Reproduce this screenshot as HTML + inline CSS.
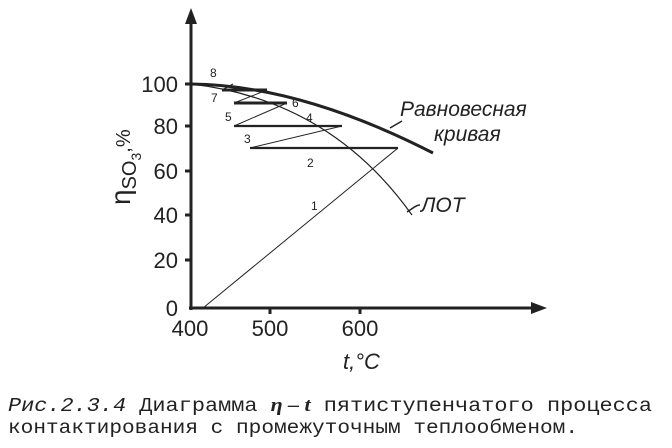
<!DOCTYPE html>
<html><head><meta charset="utf-8"><style>
body{margin:0;background:#fff}
.s{font-family:"Liberation Sans",sans-serif;fill:#222}
.m{font-family:"Liberation Mono",monospace;fill:#222}
</style></head><body>
<svg width="672" height="443" viewBox="0 0 672 443" xmlns="http://www.w3.org/2000/svg">
<g stroke="#222" fill="none">
<line x1="191" y1="310" x2="191" y2="20" stroke-width="3"/>
<polygon points="191,8 185,24 197,24" fill="#222" stroke="none"/>
<line x1="189" y1="308" x2="535" y2="308" stroke-width="3"/>
<polygon points="547,308 531,302 531,314" fill="#222" stroke="none"/>
<g stroke-width="3">
<line x1="185" y1="84" x2="191" y2="84"/><line x1="185" y1="126" x2="191" y2="126"/>
<line x1="185" y1="171" x2="191" y2="171"/><line x1="185" y1="215" x2="191" y2="215"/>
<line x1="185" y1="260" x2="191" y2="260"/>
<line x1="270" y1="308" x2="270" y2="314"/><line x1="360" y1="308" x2="360" y2="314"/>
</g>
<path d="M191,84 Q300,85 433,153" stroke-width="3"/>
<path d="M191,84 Q330,100 412,215" stroke-width="1.2"/>
<line x1="390" y1="128" x2="402" y2="121" stroke-width="1.5"/>
<path d="M407,212 L413,208 Q417,205 420,205" stroke-width="1.5"/>
<polyline points="203,308 398,148" stroke-width="1"/>
<line x1="398" y1="148" x2="250" y2="148" stroke-width="2.2"/>
<polyline points="250,148 342,126" stroke-width="1"/>
<line x1="342" y1="126" x2="234" y2="126" stroke-width="2.2"/>
<polyline points="234,126 287,103" stroke-width="1"/>
<line x1="287" y1="103" x2="234" y2="103" stroke-width="3"/>
<polyline points="234,103 267,90" stroke-width="1"/>
<line x1="267" y1="90" x2="222" y2="90" stroke-width="3"/>
<polyline points="222,90 233,84" stroke-width="1"/>
</g>
<g class="s" font-size="22" text-anchor="end">
<text class="s" x="178" y="92">100</text><text class="s" x="178" y="134">80</text><text class="s" x="178" y="179">60</text>
<text class="s" x="178" y="223">40</text><text class="s" x="178" y="268">20</text><text class="s" x="178" y="316">0</text>
</g>
<g font-size="22" text-anchor="middle">
<text class="s" x="190" y="336">400</text><text class="s" x="270" y="336">500</text><text class="s" x="360" y="336">600</text>
</g>
<text class="s" x="343" y="369" font-size="22" font-style="italic">t,°C</text>
<g transform="translate(130,205) rotate(-90)"><text class="s" font-size="28" x="0" y="0">η<tspan font-size="20" dy="6">SO</tspan><tspan font-size="14" dy="5">3</tspan><tspan font-size="20" dy="-11">,%</tspan></text></g>
<g font-size="12">
<text class="s" x="210" y="77">8</text><text class="s" x="211" y="102">7</text><text class="s" x="292" y="107">6</text>
<text class="s" x="225" y="121">5</text><text class="s" x="306" y="122">4</text><text class="s" x="244" y="143">3</text>
<text class="s" x="307" y="167">2</text><text class="s" x="311" y="210">1</text>
</g>
<text class="s" x="400" y="116" font-size="21" font-style="italic">Равновесная</text>
<text class="s" x="434" y="141" font-size="21" font-style="italic">кривая</text>
<text class="s" x="421" y="212" font-size="21" font-style="italic">ЛОТ</text>
<text class="m" x="8" y="411" font-size="19" textLength="644" lengthAdjust="spacingAndGlyphs"><tspan font-style="italic">Рис.2.3.4</tspan>  Диаграмма <tspan font-family="Liberation Serif,serif" font-weight="bold" font-style="italic">η – t</tspan> пятиступенчатого процесса</text>
<text class="m" x="8" y="433" font-size="19" textLength="570" lengthAdjust="spacingAndGlyphs">контактирования с промежуточным теплообменом.</text>
</svg>
</body></html>
